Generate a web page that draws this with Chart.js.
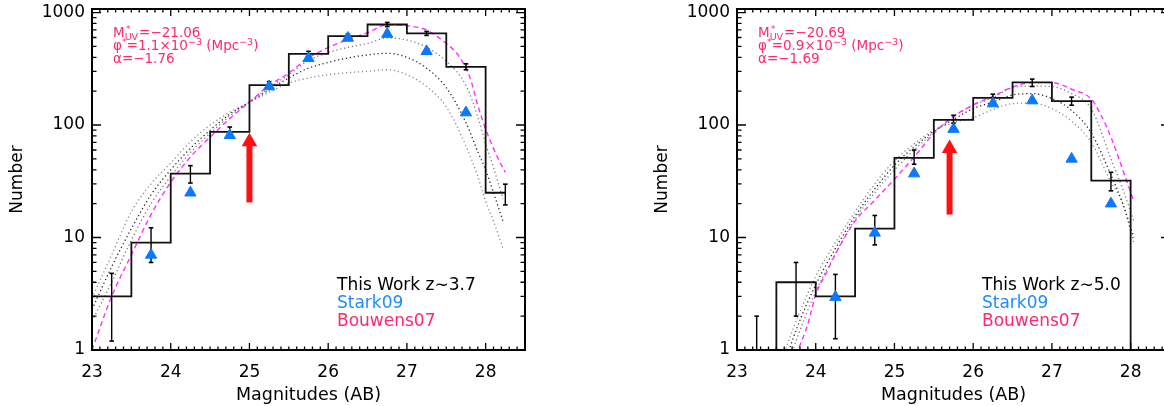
<!DOCTYPE html>
<html>
<head>
<meta charset="utf-8">
<script src="https://cdn.jsdelivr.net/npm/chart.js@4.4.1/dist/chart.umd.min.js"></script>
<style>
  html, body { margin: 0; padding: 0; background: #fff; overflow: hidden; }
  .panel { position: absolute; top: 0; width: 560px; height: 406px; }
</style>
</head>
<body>
<div class="panel" style="left:0"><canvas id="chart-z37" width="560" height="406"></canvas></div>
<div class="panel" style="left:645px"><canvas id="chart-z50" width="560" height="406"></canvas></div>
<script>
// Histogramme "This Work" : bords des bins et comptages (0 = bin vide)
const stepMagL = [23, 23.5, 24, 24.5, 25, 25.5, 26, 26.5, 27, 27.5, 28, 28.25];
const countL = [3, 9, 37, 87, 226, 429, 618, 783, 652, 329, 25, 25];
const stepMagR = [23, 23.5, 24, 24.5, 25, 25.5, 26, 26.5, 27, 27.5, 28];
const countR = [0, 4, 3, 12, 51, 111, 174, 239, 163, 32, 0];

// Barres d'erreur (centre des bins)
const errMagL = [23.25, 23.75, 24.25, 24.75, 25.25, 25.75, 26.25, 26.75, 27.25, 27.75, 28.25];
const errLoL = [1.2, 6.0, 30.5, 79, 211, 408, 593, 750, 626, 310, 19.5];
const errHiL = [4.8, 12.2, 43.5, 96, 243, 452, 643, 816, 679, 350, 29.8];
const errMagR = [23.25, 23.75, 24.25, 24.75, 25.25, 25.75, 26.25, 26.75, 27.25, 27.75];
const errLoR = [0, 2.0, 1.26, 8.6, 44.8, 104, 161, 220, 150, 26];
const errHiR = [2.0, 6.0, 4.7, 15.7, 60, 122, 188, 256, 177, 38];

// Stark09 (triangles)
const starkMagL = [23.75, 24.25, 24.75, 25.25, 25.75, 26.25, 26.75, 27.25, 27.75];
const starkL = [7.0, 25, 81, 220, 392, 594, 644, 452, 129];
const starkMagR = [24.25, 24.75, 25.25, 25.75, 26.25, 26.75, 27.25, 27.75];
const starkR = [2.95, 11.0, 37, 92, 155, 165, 50, 20];

// Bouwens07 (tirets magenta)
const bouwMagL = [23.0, 23.25, 23.5, 23.75, 24.0, 24.25, 24.5, 24.75, 25.0, 25.25, 25.5, 25.75, 26.0, 26.25, 26.5, 26.75, 27.0, 27.25, 27.5, 27.65, 27.8, 27.9, 28.0, 28.1, 28.2, 28.25];
const bouwL = [1.0, 3.0, 7.0, 16, 31, 52, 78, 114, 160, 225, 290, 395, 488, 576, 661, 779, 763, 699, 530, 420, 265, 150, 92, 62, 44, 38];
const bouwMagR = [23.75, 23.9, 24.0, 24.15, 24.25, 24.5, 24.75, 25.0, 25.25, 25.5, 25.75, 26.0, 26.25, 26.5, 26.75, 27.0, 27.25, 27.5, 27.62, 27.75, 27.9, 28.03];
const bouwR = [0.9, 1.7, 3.1, 5.1, 7.1, 14, 21.5, 33, 52, 84, 119, 151, 180, 218, 238, 238, 208, 170, 124, 78, 40, 22];

// Modeles (pointilles)
const modelMagL = [23.0, 23.25, 23.5, 23.75, 24.0, 24.25, 24.5, 24.75, 25.0, 25.25, 25.5, 25.75, 26.0, 26.25, 26.5, 26.75, 27.0, 27.25, 27.5, 27.75, 27.9, 28.0, 28.1, 28.22];
const modelAL = [1.8, 4.0, 9.5, 20, 35, 57, 84, 120, 160, 215, 280, 375, 440, 490, 530, 595, 570, 490, 370, 225, 118, 68, 42, 22];
const modelBL = [2.3, 5.5, 12, 24, 40, 62, 90, 125, 160, 205, 262, 320, 360, 395, 420, 434, 400, 320, 215, 105, 58, 40, 25, 14];
const modelCL = [2.9, 7.0, 17, 30, 46, 71, 100, 130, 160, 195, 236, 262, 280, 292, 300, 310, 280, 220, 145, 65, 35, 21, 14, 8];
const modelMagR = [23.5, 23.75, 24.0, 24.25, 24.5, 24.75, 25.0, 25.25, 25.5, 25.75, 26.0, 26.25, 26.5, 26.75, 27.0, 27.25, 27.5, 27.75, 27.9, 28.04];
const modelAR = [0.35, 1.2, 3.3, 7.2, 14.5, 25, 40, 60, 86, 119, 150, 175, 215, 222, 220, 190, 140, 50, 27, 14];
const modelBR = [0.45, 1.5, 3.8, 8, 15.5, 27, 44, 64, 88, 112, 140, 160, 185, 190, 172, 135, 85, 36, 20, 10];
const modelCR = [0.6, 1.8, 4.5, 9, 17, 30, 48, 68, 90, 105, 116, 137, 155, 157, 140, 108, 70, 31, 20, 9];

// Fleche rouge : position, base et pointe
const arrowMag = [25.0, 25.7];
const arrowBase = [20.5, 16];
const arrowHead = [71, 62];

// Axes
const xTicks = [23, 24, 25, 26, 27, 28];
const yTicks = [1, 10, 100, 1000];
const xRange = [23, 28.5];
const yRange = [1, 1075];

const PINK = '#ff2a6a';
const MAGENTA = '#ff30ff';
const BLUE = '#0a78ff';
const FONT = 'DejaVu Sans';

const pts = (xs, ys) => xs.map((m, i) => ({x: m, y: ys[i]}));

// Cadre + graduations vers l'interieur (haut, bas, gauche, droite)
const frameTicks = {
    id: 'frameTicks',
    afterDraw(chart) {
        const {ctx, chartArea: a, scales: {x, y}} = chart;
        ctx.save();
        ctx.strokeStyle = '#000';
        ctx.lineWidth = 1.3;
        ctx.beginPath();
        for (let i = 0; i <= 55; i++) {
            const px = x.getPixelForValue(xRange[0] + i / 10);
            const len = i % 10 === 0 ? 7 : 3.5;
            ctx.moveTo(px, a.bottom); ctx.lineTo(px, a.bottom - len);
            ctx.moveTo(px, a.top); ctx.lineTo(px, a.top + len);
        }
        yTicks.forEach(d => {
            for (let m = 1; m < 10; m++) {
                const v = d * m;
                if (v > yRange[1]) break;
                const py = y.getPixelForValue(v);
                const len = m === 1 ? 9 : 4.5;
                ctx.moveTo(a.left, py); ctx.lineTo(a.left + len, py);
                ctx.moveTo(a.right, py); ctx.lineTo(a.right - len, py);
            }
        });
        ctx.stroke();
        ctx.lineWidth = 2;
        ctx.strokeRect(a.left, a.top, a.right - a.left, a.bottom - a.top);
        ctx.restore();
    }
};

// Textes : parametres de Schechter et legende
const textLayer = {
    id: 'textLayer',
    beforeDatasetsDraw(chart, args, opts) {
        const {ctx, chartArea: a} = chart;
        const big = `13.5px "${FONT}"`, small = `9.5px "${FONT}"`;
        ctx.save();
        ctx.textAlign = 'left';
        ctx.textBaseline = 'alphabetic';
        ctx.fillStyle = PINK;

        // ligne 1 : M*_UV
        let x = a.left + 21, y = a.top + 28;
        ctx.font = big; ctx.fillText('M', x, y); x += ctx.measureText('M').width;
        ctx.font = small; ctx.fillText('*', x + 1, y - 5); ctx.fillText('UV', x, y + 3);
        x += ctx.measureText('UV').width + 1;
        ctx.font = big; ctx.fillText('=' + opts.mstar, x, y);

        // ligne 2 : phi*
        x = a.left + 21; y = a.top + 41;
        ctx.font = big; ctx.fillText('φ', x, y); x += ctx.measureText('φ').width;
        ctx.font = small; ctx.fillText('*', x, y - 5); x += ctx.measureText('*').width;
        ctx.font = big; ctx.fillText('=' + opts.phi + '×10', x, y); x += ctx.measureText('=' + opts.phi + '×10').width;
        ctx.font = small; ctx.fillText('−3', x, y - 5); x += ctx.measureText('−3').width;
        ctx.font = big; ctx.fillText(' (Mpc', x, y); x += ctx.measureText(' (Mpc').width;
        ctx.font = small; ctx.fillText('−3', x, y - 5); x += ctx.measureText('−3').width;
        ctx.font = big; ctx.fillText(')', x, y);

        // ligne 3 : alpha
        ctx.fillText('α=' + opts.alpha, a.left + 21, a.top + 54);

        // legende
        ctx.font = `17px "${FONT}"`;
        ctx.fillStyle = '#000';
        ctx.fillText('This Work z∼' + opts.z, a.left + 245, a.top + 281);
        ctx.fillStyle = '#1e8cff';
        ctx.fillText('Stark09', a.left + 245, a.top + 299);
        ctx.fillStyle = PINK;
        ctx.fillText('Bouwens07', a.left + 245, a.top + 317);
        ctx.restore();
    }
};

function buildPanel(id, p) {
    const yMin = yRange[0];
    const errData = [];
    p.errMag.forEach((m, i) => {
        errData.push({x: m, y: p.errLo[i] > 0 ? p.errLo[i] : yMin});
        errData.push({x: m, y: p.errHi[i]});
        errData.push({x: m, y: null});
    });
    const dotted = (ys, color) => ({
        data: pts(p.modelMag, ys),
        borderColor: color, borderWidth: 1.3, borderDash: [1.2, 2.8],
        pointRadius: 0, cubicInterpolationMode: 'monotone', order: 6
    });

    return new Chart(document.getElementById(id), {
        type: 'line',
        data: {
            datasets: [
                dotted(p.modelA, '#777'),
                dotted(p.modelB, '#222'),
                dotted(p.modelC, '#888'),
                {
                    data: pts(p.bouwMag, p.bouw),
                    borderColor: MAGENTA, borderWidth: 1.4, borderDash: [5, 3.5],
                    pointRadius: 0, cubicInterpolationMode: 'monotone', order: 5
                },
                {
                    data: p.stepMag.map((m, i) => ({x: m, y: p.counts[i] > 0 ? p.counts[i] : yMin})),
                    stepped: true, borderColor: '#111', borderWidth: 1.8,
                    pointRadius: 0, order: 4
                },
                {
                    data: errData, spanGaps: false,
                    borderColor: '#000', borderWidth: 1.4,
                    pointStyle: 'line', pointRadius: 2.3, pointBorderWidth: 1.6,
                    pointBorderColor: '#000', order: 3
                },
                {
                    data: pts(p.starkMag, p.stark), showLine: false,
                    pointStyle: 'triangle', pointRadius: 6.5,
                    pointBackgroundColor: BLUE, pointBorderColor: BLUE, pointBorderWidth: 1,
                    order: 2
                },
                {
                    data: [{x: p.arrow[0], y: p.arrow[1]}, {x: p.arrow[0], y: p.arrow[2]}],
                    borderColor: '#ff1010', borderWidth: 6, pointRadius: 0, order: 1
                },
                {
                    data: [{x: p.arrow[0], y: p.arrow[2]}], showLine: false,
                    pointStyle: 'triangle', pointRadius: 9, pointBorderWidth: 0,
                    pointBackgroundColor: '#ff1010', pointBorderColor: '#ff1010', order: 1
                }
            ]
        },
        options: {
            responsive: false,
            animation: false,
            devicePixelRatio: 1,
            layout: {padding: {left: 0, right: 35, top: 7, bottom: 0}},
            plugins: {
                legend: {display: false},
                tooltip: {enabled: false},
                textLayer: p.text
            },
            scales: {
                x: {
                    type: 'linear', min: xRange[0], max: xRange[1],
                    grid: {display: false, drawTicks: false}, border: {display: false},
                    ticks: {
                        stepSize: 1, includeBounds: false, autoSkip: false, maxRotation: 0,
                        padding: 12, color: '#000', font: {family: FONT, size: 17},
                        callback: v => xTicks.includes(v) ? String(v) : ''
                    },
                    title: {
                        display: true, text: 'Magnitudes (AB)', color: '#000',
                        font: {family: FONT, size: 17.5}, padding: {top: 0, bottom: 0}
                    },
                    afterFit(s) { s.height = 56; s.paddingLeft = 0; s.paddingRight = 0; }
                },
                y: {
                    type: 'logarithmic', min: yRange[0], max: yRange[1],
                    grid: {display: false, drawTicks: false}, border: {display: false},
                    ticks: {
                        autoSkip: false, padding: 7, color: '#000',
                        font: {family: FONT, size: 17},
                        callback: v => yTicks.includes(v) ? String(v) : ''
                    },
                    title: {
                        display: true, text: 'Number', color: '#000',
                        font: {family: FONT, size: 17}, padding: {top: 7, bottom: 0}
                    },
                    afterFit(s) { s.width = 92; s.paddingTop = 0; s.paddingBottom = 0; }
                }
            }
        },
        plugins: [frameTicks, textLayer]
    });
}

buildPanel('chart-z37', {
    stepMag: stepMagL, counts: countL,
    errMag: errMagL, errLo: errLoL, errHi: errHiL,
    starkMag: starkMagL, stark: starkL,
    bouwMag: bouwMagL, bouw: bouwL,
    modelMag: modelMagL, modelA: modelAL, modelB: modelBL, modelC: modelCL,
    arrow: [arrowMag[0], arrowBase[0], arrowHead[0]],
    text: {mstar: '−21.06', phi: '1.1', alpha: '−1.76', z: '3.7'}
});

buildPanel('chart-z50', {
    stepMag: stepMagR, counts: countR,
    errMag: errMagR, errLo: errLoR, errHi: errHiR,
    starkMag: starkMagR, stark: starkR,
    bouwMag: bouwMagR, bouw: bouwR,
    modelMag: modelMagR, modelA: modelAR, modelB: modelBR, modelC: modelCR,
    arrow: [arrowMag[1], arrowBase[1], arrowHead[1]],
    text: {mstar: '−20.69', phi: '0.9', alpha: '−1.69', z: '5.0'}
});
</script>
</body>
</html>
